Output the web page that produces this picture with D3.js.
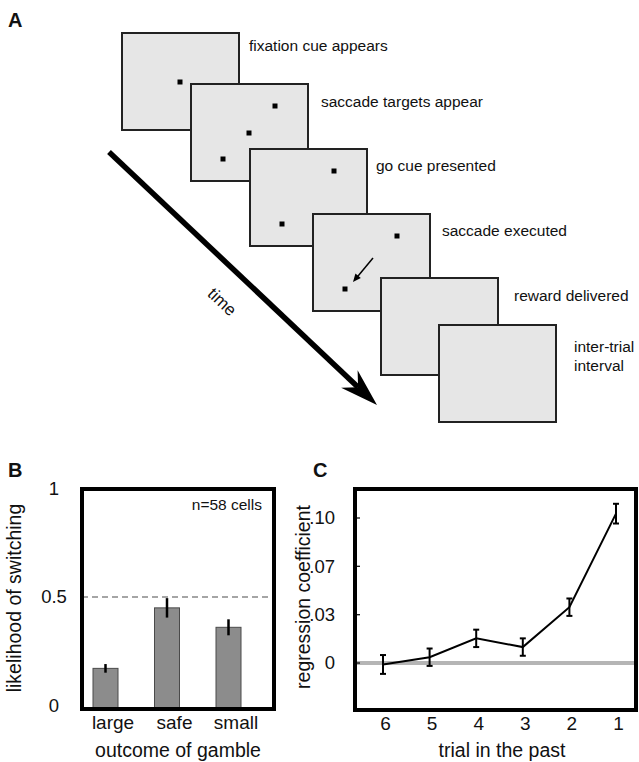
<!DOCTYPE html>
<html><head><meta charset="utf-8">
<script src="https://cdn.jsdelivr.net/npm/d3@7/dist/d3.min.js"></script>
<style>
body{margin:0;background:#fff}
text{font-family:"Liberation Sans",Arial,Helvetica,sans-serif;fill:#111}
</style>
</head><body>
<svg id="fig" width="639" height="762"></svg>
<script>
// ---------- DATA ----------
// Panel A: trial sequence steps
const steps = ["fixation cue appears", "saccade targets appear", "go cue presented",
               "saccade executed", "reward delivered", "inter-trial\ninterval"];
// which stimuli are shown on each screen (f = fixation, t1 = upper target, t2 = lower target, a = saccade arrow)
const stimuli = [["f"], ["f","t1","t2"], ["t1","t2"], ["t1","t2","a"], [], []];

// Panel B
const outcomes = ["large", "safe", "small"];
const switchProb = [0.17, 0.45, 0.36];
const switchErr = [0.02, 0.045, 0.037];
const bTickVals = [0, 0.5, 1];
const bTickLabels = ["0", "0.5", "1"];
const nLabel = "n=58 cells";

// Panel C
const trialsBack = ["6", "5", "4", "3", "2", "1"];
const coef = [-0.001, 0.004, 0.017, 0.011, 0.0385, 0.103];
const coefErr = [0.0065, 0.006, 0.006, 0.006, 0.006, 0.0068];
const cTickVals = [0, 0.0333, 0.0667, 0.1];
const cTickLabels = ["0", ".03", ".07", ".10"];

// ---------- LAYOUT ----------
const svg = d3.select("#fig");
const FONT = '"Liberation Sans",Arial,Helvetica,sans-serif';

// Panel letters
svg.append("text").attr("x", 8).attr("y", 27).attr("font-size", 20).attr("font-weight", "bold").text("A");
svg.append("text").attr("x", 8).attr("y", 477).attr("font-size", 20).attr("font-weight", "bold").text("B");
svg.append("text").attr("x", 313).attr("y", 477).attr("font-size", 20).attr("font-weight", "bold").text("C");

// ---------- Panel A ----------
const screenPos = [[122,33],[191,84],[250,149],[313,214],[381,278],[439,325]];
const labelOff = [[10,18],[13,23],[9,22],[12,22],[16,23],[18,27]];
const SW = 117, SH = 97;
const stimPos = {f:[58,49], t1:[84,22], t2:[32,75]};

// time arrow (behind screens)
(function(){
  const x0 = 109, y0 = 152, x1 = 377, y1 = 405;
  const dx = x1 - x0, dy = y1 - y0, L = Math.hypot(dx, dy);
  const ux = dx / L, uy = dy / L, px = -uy, py = ux;
  const headL = 38, notch = 26, halfW = 12;
  const bx = x1 - ux * headL, by = y1 - uy * headL;
  const nx = x1 - ux * notch, ny = y1 - uy * notch;
  svg.append("line").attr("x1", x0).attr("y1", y0).attr("x2", nx).attr("y2", ny)
    .attr("stroke", "#000").attr("stroke-width", 5.5);
  svg.append("path")
    .attr("d", `M${x1},${y1} L${bx + px*halfW},${by + py*halfW} L${nx},${ny} L${bx - px*halfW},${by - py*halfW} Z`)
    .attr("fill", "#000");
  const ang = Math.atan2(dy, dx) * 180 / Math.PI;
  svg.append("text").attr("transform", `translate(222,302) rotate(${ang})`)
    .attr("text-anchor", "middle").attr("dominant-baseline", "central")
    .attr("font-size", 17).text("time");
})();

steps.forEach((s, i) => {
  const [x, y] = screenPos[i];
  const g = svg.append("g").attr("transform", `translate(${x},${y})`);
  g.append("rect").attr("width", SW).attr("height", SH)
    .attr("fill", "#e6e6e6").attr("stroke", "#222").attr("stroke-width", 2);
  stimuli[i].forEach(k => {
    if (k === "a") {
      const ax0 = 60, ay0 = 44, ax1 = 40, ay1 = 68;
      const L = Math.hypot(ax1-ax0, ay1-ay0), ux = (ax1-ax0)/L, uy = (ay1-ay0)/L;
      const hl = 8, hw = 3.5;
      g.append("line").attr("x1", ax0).attr("y1", ay0).attr("x2", ax1 - ux*5).attr("y2", ay1 - uy*5)
        .attr("stroke", "#000").attr("stroke-width", 1.5);
      g.append("path").attr("d",
        `M${ax1},${ay1} L${ax1 - ux*hl - uy*hw},${ay1 - uy*hl + ux*hw} L${ax1 - ux*hl + uy*hw},${ay1 - uy*hl - ux*hw} Z`)
        .attr("fill", "#000");
    } else {
      const [sx, sy] = stimPos[k];
      g.append("rect").attr("x", sx - 2.5).attr("y", sy - 2.5).attr("width", 5).attr("height", 5).attr("fill", "#000");
    }
  });
  const t = svg.append("text").attr("x", x + SW + labelOff[i][0]).attr("y", y + labelOff[i][1])
    .attr("font-size", 15.5);
  s.split("\n").forEach((line, j) => {
    t.append("tspan").attr("x", x + SW + labelOff[i][0]).attr("dy", j === 0 ? 0 : 19).text(line);
  });
});

// ---------- Panel B ----------
const bL = 82, bR = 274, bT = 489, bB = 709;
const yB = d3.scaleLinear().domain([-0.018, 1]).range([bB, bT]);
const xB = d3.scalePoint().domain(outcomes).range([105.5, 228.5]);
const barW = 25;

// dashed chance line
svg.append("line").attr("x1", bL).attr("x2", bR).attr("y1", yB(0.5)).attr("y2", yB(0.5))
  .attr("stroke", "#888").attr("stroke-width", 1.6).attr("stroke-dasharray", "6,4");

svg.append("g").selectAll("rect").data(outcomes).join("rect")
  .attr("x", d => xB(d) - barW/2).attr("width", barW)
  .attr("y", (d, i) => yB(switchProb[i])).attr("height", (d, i) => yB(yB.domain()[0]) - yB(switchProb[i]))
  .attr("fill", "#8c8c8c").attr("stroke", "#4a4a4a").attr("stroke-width", 1);

svg.append("g").selectAll("line").data(outcomes).join("line")
  .attr("x1", d => xB(d)).attr("x2", d => xB(d))
  .attr("y1", (d, i) => yB(switchProb[i] - switchErr[i])).attr("y2", (d, i) => yB(switchProb[i] + switchErr[i]))
  .attr("stroke", "#000").attr("stroke-width", 2.5);

// axes (text only, frame drawn separately)
const axBy = svg.append("g").attr("transform", `translate(${bL},0)`)
  .call(d3.axisLeft(yB).tickValues(bTickVals).tickFormat((d, i) => bTickLabels[i]).tickSize(0));
axBy.select(".domain").remove();
axBy.selectAll("text").attr("font-size", 18.5).attr("font-family", FONT).attr("fill", "#111")
  .attr("text-anchor", "middle").attr("x", 54 - bL);

const axBx = svg.append("g").attr("transform", `translate(0,${bB})`)
  .call(d3.axisBottom(xB).tickSize(0));
axBx.select(".domain").remove();
axBx.selectAll("text").attr("font-size", 19).attr("font-family", FONT).attr("fill", "#111")
  .attr("dy", 0).attr("y", 20).attr("dx", 7);

svg.append("text").attr("x", 262).attr("y", 510).attr("text-anchor", "end").attr("font-size", 15.5).text(nLabel);
svg.append("text").attr("x", 178).attr("y", 757).attr("text-anchor", "middle").attr("font-size", 19.5).text("outcome of gamble");
svg.append("text").attr("transform", `translate(21,598) rotate(-90)`).attr("text-anchor", "middle")
  .attr("font-size", 19.5).text("likelihood of switching");

svg.append("rect").attr("x", bL).attr("y", bT).attr("width", bR - bL).attr("height", bB - bT)
  .attr("fill", "none").attr("stroke", "#000").attr("stroke-width", 4);

// ---------- Panel C ----------
const cL = 355, cR = 636, cT = 489, cB = 710;
const yC = d3.scaleLinear().domain([-0.0324, 0.12]).range([cB, cT]);
const xC = d3.scalePoint().domain(trialsBack).range([383, 616]);

svg.append("line").attr("x1", cL).attr("x2", cR).attr("y1", yC(0)).attr("y2", yC(0))
  .attr("stroke", "#b5b5b5").attr("stroke-width", 4);

svg.append("path").datum(trialsBack)
  .attr("d", d3.line().x(d => xC(d)).y((d, i) => yC(coef[i])))
  .attr("fill", "none").attr("stroke", "#000").attr("stroke-width", 2);

const eb = svg.append("g").selectAll("g").data(trialsBack).join("g");
eb.append("line").attr("x1", d => xC(d)).attr("x2", d => xC(d))
  .attr("y1", (d, i) => yC(coef[i] - coefErr[i])).attr("y2", (d, i) => yC(coef[i] + coefErr[i]))
  .attr("stroke", "#000").attr("stroke-width", 2);
[-1, 1].forEach(s => {
  eb.append("line").attr("x1", d => xC(d) - 3).attr("x2", d => xC(d) + 3)
    .attr("y1", (d, i) => yC(coef[i] + s * coefErr[i])).attr("y2", (d, i) => yC(coef[i] + s * coefErr[i]))
    .attr("stroke", "#000").attr("stroke-width", 2);
});

const axCy = svg.append("g").attr("transform", `translate(${cL},0)`)
  .call(d3.axisLeft(yC).tickValues(cTickVals).tickFormat((d, i) => cTickLabels[i]).tickSize(0));
axCy.select(".domain").remove();
axCy.selectAll("text").attr("font-size", 18.5).attr("font-family", FONT).attr("fill", "#111")
  .attr("x", 335 - cL);
// small inward tick marks
svg.append("g").selectAll("line").data(cTickVals).join("line")
  .attr("x1", cL).attr("x2", cL + 5).attr("y1", d => yC(d)).attr("y2", d => yC(d))
  .attr("stroke", "#000").attr("stroke-width", 1.2);

const axCx = svg.append("g").attr("transform", `translate(0,${cB})`)
  .call(d3.axisBottom(xC).tickSize(0));
axCx.select(".domain").remove();
axCx.selectAll("text").attr("font-size", 19).attr("font-family", FONT).attr("fill", "#111")
  .attr("dy", 0).attr("y", 20).attr("dx", 2);

svg.append("text").attr("x", 502).attr("y", 757).attr("text-anchor", "middle").attr("font-size", 19.5).text("trial in the past");
svg.append("text").attr("transform", `translate(310,597) rotate(-90)`).attr("text-anchor", "middle")
  .attr("font-size", 19.5).text("regression coefficient");

svg.append("rect").attr("x", cL).attr("y", cT).attr("width", cR - cL).attr("height", cB - cT)
  .attr("fill", "none").attr("stroke", "#000").attr("stroke-width", 4);
</script>
</body></html>
